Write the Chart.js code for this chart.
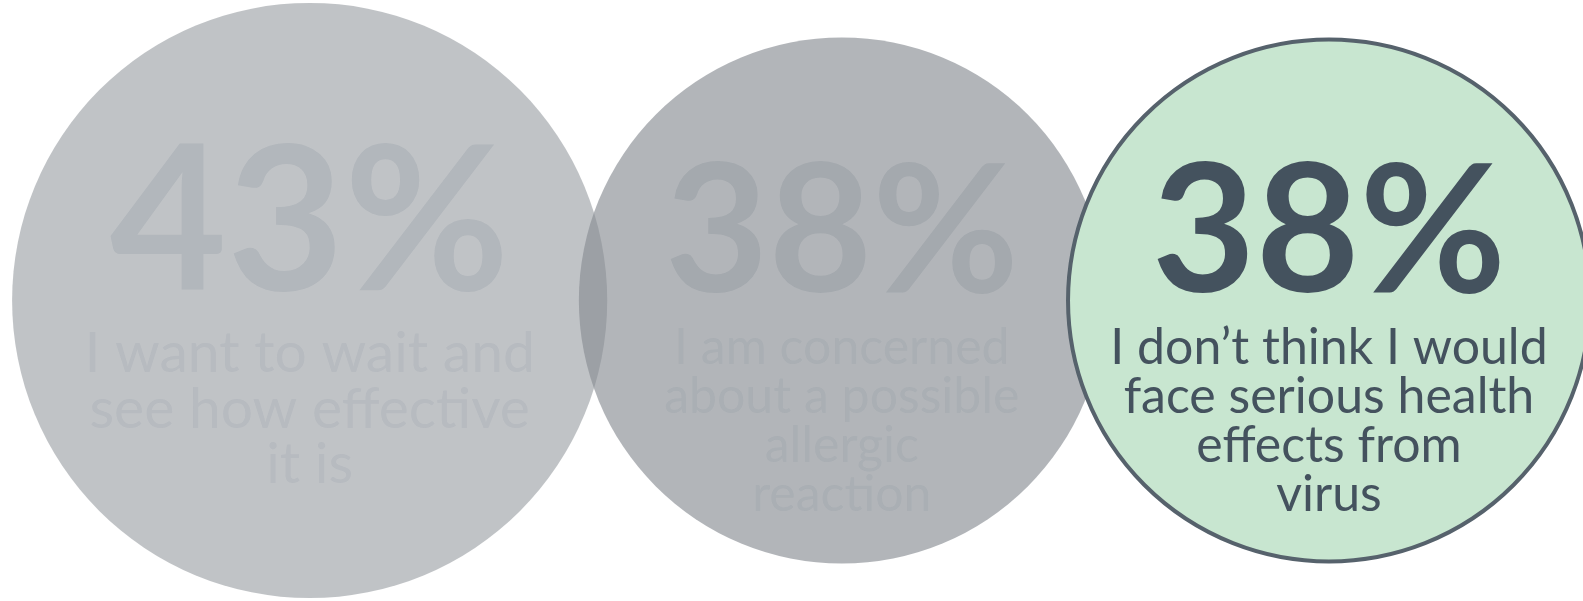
<!DOCTYPE html>
<html>
<head>
<meta charset="utf-8">
<script src="https://cdn.jsdelivr.net/npm/chart.js@4"></script>
<style>
  html, body { margin: 0; padding: 0; background: #ffffff; }
  #wrap { width: 1583px; height: 601px; position: relative; }
</style>
</head>
<body>
<div id="wrap"><canvas id="c"></canvas></div>
<script>
// ---- data ----
const categories = [
  "I want to wait and see how effective it is",
  "I am concerned about a possible allergic reaction",
  "I don’t think I would face serious health effects from virus"
];
const labelLines = [
  ["I want to wait and", "see how effective", "it is"],
  ["I am concerned", "about a possible", "allergic", "reaction"],
  ["I don’t think I would", "face serious health", "effects from", "virus"]
];
const values = [43, 38, 38];
const valueLabels = ["43%", "38%", "38%"];

// ---- layout / style (not data) ----
const W = 1583, H = 601;
const PX_PER_UNIT = 6.92;      // bubble radius in px per percentage point
const LEFT_MARGIN = 1.75;      // in value units
const OVERLAPS = [0, 4.1, 5.6]; // overlap with the previous bubble, value units
const fills = ["rgba(136,142,148,0.53)", "rgba(136,142,148,0.65)", "#c8e6d0"];
const borders = ["rgba(0,0,0,0)", "rgba(0,0,0,0)", "#56626c"];
const borderWidths = [0, 0, 4];
const pctColors = ["#b2b7bc", "#a4a9ae", "#44525e"];
const lblColors = ["#b7bbc0", "#aaafb4", "#44525e"];
const FONT = "Lato, 'Noto Sans', sans-serif";

// let the bubbles use the whole canvas (no automatic inner padding)
Chart.BubbleController.prototype.getMaxOverflow = function () { return false; };

// centres computed from values
const points = [];
let cx = 0;
values.forEach((v, i) => {
  cx = i === 0 ? LEFT_MARGIN + v : cx + values[i - 1] + v - OVERLAPS[i];
  points.push({ x: cx, y: 0, r: v * PX_PER_UNIT - borderWidths[i] / 2 });
});

const textPlugin = {
  id: 'bubbleText',
  afterDatasetsDraw(chart) {
    const ctx = chart.ctx;
    const meta = chart.getDatasetMeta(0);
    meta.data.forEach((el, i) => {
      const r = values[i] * PX_PER_UNIT;
      const x = el.x, y = el.y;
      ctx.save();
      ctx.textAlign = 'center';
      ctx.textBaseline = 'alphabetic';
      ctx.fillStyle = pctColors[i];
      ctx.font = `700 ${Math.round(r * 0.68)}px ${FONT}`;
      ctx.fillText(valueLabels[i], x, y - r * 0.034);
      ctx.fillStyle = lblColors[i];
      ctx.textBaseline = 'middle';
      ctx.font = `400 ${Math.round(r * 0.19)}px ${FONT}`;
      const step = r * 0.186;
      labelLines[i].forEach((ln, j) => {
        ctx.fillText(ln, x, y + r * 0.18 + j * step);
      });
      ctx.restore();
    });
  }
};

new Chart(document.getElementById('c'), {
  type: 'bubble',
  data: {
    labels: categories,
    datasets: [{
      data: points,
      clip: false,
      backgroundColor: fills,
      borderColor: borders,
      borderWidth: borderWidths,
      hoverBackgroundColor: fills,
      hoverBorderColor: borders,
      hoverBorderWidth: borderWidths
    }]
  },
  options: {
    responsive: true,
    maintainAspectRatio: false,
    animation: false,
    events: [],
    layout: { padding: 0 },
    plugins: { legend: { display: false }, tooltip: { enabled: false } },
    scales: {
      x: { type: 'linear', display: false, min: 0, max: W / PX_PER_UNIT },
      y: { type: 'linear', display: false, min: -H / 2 / PX_PER_UNIT, max: H / 2 / PX_PER_UNIT }
    }
  },
  plugins: [textPlugin]
});
</script>
</body>
</html>
